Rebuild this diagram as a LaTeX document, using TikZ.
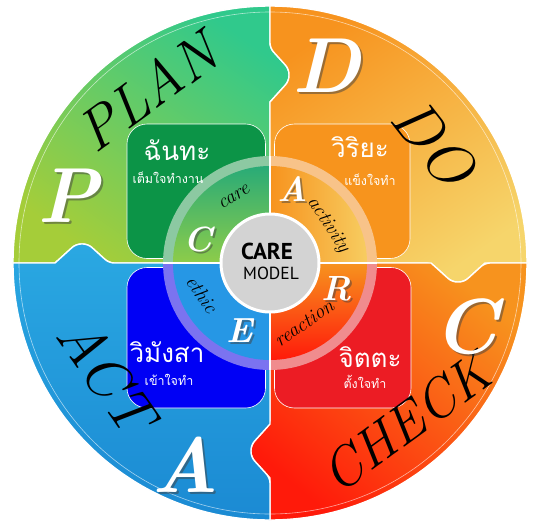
\documentclass[tikz,border=0pt]{standalone}
\usepackage{fontspec}
\newfontfamily\thaifont[Script=Thai]{Loma}
\newfontfamily\hubfont{PT Sans}
\usetikzlibrary{positioning}

\definecolor{planTeal}{HTML}{30C98C}
\definecolor{planLime}{HTML}{A5CD39}
\definecolor{doOrange}{HTML}{F7931E}
\definecolor{doYellow}{HTML}{F6D56B}
\definecolor{checkRed}{HTML}{FF1A0A}
\definecolor{checkOrange}{HTML}{F7931E}
\definecolor{actBlue}{HTML}{2AA8E2}
\definecolor{actDeep}{HTML}{1B8AD3}
\definecolor{boxGreen}{HTML}{0C9447}
\definecolor{boxOrange}{HTML}{F7941D}
\definecolor{boxBlue}{HTML}{0000F5}
\definecolor{boxRed}{HTML}{EC1C24}
\definecolor{bandGreen}{HTML}{8CC9A2}
\definecolor{bandOrange}{HTML}{F8C389}
\definecolor{bandRed}{HTML}{F08C8E}
\definecolor{bandBlue}{HTML}{7B73F0}
\definecolor{hubGrey}{HTML}{D3D3D3}

\tikzset{
  quarter/.style={draw=white, line width=1.4pt},
  innerbox/.style={draw=white!80, line width=.6pt, rounded corners=20pt},
  pdcaword/.style={font=\fontsize{#1}{#1}\selectfont\itshape, text=black, inner sep=0pt},
  bigletter/.style={font=\fontsize{78}{78}\selectfont\bfseries\itshape, text=white, inner sep=0pt},
  ringletter/.style={font=\fontsize{35}{35}\selectfont\bfseries\itshape, text=white, inner sep=0pt},
  ringword/.style={font=\fontsize{20}{20}\selectfont\itshape, text=black, inner sep=0pt},
  thaibig/.style={font=\thaifont\fontsize{26}{28}\selectfont, text=white, inner sep=0pt},
  thaismall/.style={font=\thaifont\fontsize{12.5}{13}\selectfont, text=white, inner sep=0pt},
  bandplan/.style={fill=bandGreen},
  banddo/.style={fill=bandOrange},
  bandcheck/.style={fill=bandRed},
  bandact/.style={fill=bandBlue},
  diskplan/.style={top color=planTeal!85!black, bottom color=planLime!80!planTeal},
  diskdo/.style={left color=doOrange, right color=doYellow!90!orange},
  diskcheck/.style={top color=checkOrange, bottom color=checkRed},
  diskact/.style={fill=actBlue!90!blue},
}

\newcommand{\shadowletter}[4]{%
  \node[#3, text=black!75, opacity=.5, xshift=2pt, yshift=-2pt] (#1-shadow) at #2 {#4};
  \node[#3] (#1) at #2 {#4};
}

\begin{document}
\begin{tikzpicture}[x=1pt,y=1pt]
\useasboundingbox (-270,-257) rectangle (267,263);

% quarters of the wheel
\path[quarter, top color=planTeal, bottom color=planLime, shading angle=-35]
  (0,0) -- (0,161) [rounded corners=5pt] -- (19,182) -- (19,194) -- (0,215) [sharp corners]
  -- (0,257) arc[start angle=90, end angle=180, radius=257]
  -- (-215,0) [rounded corners=5pt] -- (-194,19) -- (-182,19) -- (-161,0) [sharp corners] -- cycle;
\path[quarter, top color=doOrange, bottom color=doYellow, shading angle=35]
  (0,0) -- (0,161) [rounded corners=5pt] -- (19,182) -- (19,194) -- (0,215) [sharp corners]
  -- (0,257) arc[start angle=90, end angle=0, radius=257]
  -- (215,0) [rounded corners=5pt] -- (194,-19) -- (182,-19) -- (161,0) [sharp corners] -- cycle;
\path[quarter, top color=checkOrange, bottom color=checkRed, shading angle=-40]
  (0,0) -- (161,0) [rounded corners=5pt] -- (182,-19) -- (194,-19) -- (215,0) [sharp corners]
  -- (257,0) arc[start angle=0, end angle=-90, radius=257]
  -- (0,-215) [rounded corners=5pt] -- (-19,-194) -- (-19,-182) -- (0,-161) [sharp corners] -- cycle;
\path[quarter, top color=actBlue, bottom color=actDeep]
  (0,0) -- (0,-161) [rounded corners=5pt] -- (-19,-182) -- (-19,-194) -- (0,-215) [sharp corners]
  -- (0,-257) arc[start angle=-90, end angle=-180, radius=257]
  -- (-215,0) [rounded corners=5pt] -- (-194,19) -- (-182,19) -- (-161,0) [sharp corners] -- cycle;
\draw[white, opacity=.6, line width=.6pt] (0,0) circle[radius=251];

% inner boxes
\path[innerbox, fill=boxGreen] (-143,4.5) rectangle (-4.5,139);
\path[innerbox, fill=boxOrange] (4.5,4.5) rectangle (140,139);
\path[innerbox, fill=boxBlue] (-143,-4.5) rectangle (-4.5,-145);
\path[innerbox, fill=boxRed] (4.5,-4.5) rectangle (141,-145);

% ring and disk
\foreach \a/\s in {90/bandplan, 0/banddo, 270/bandcheck, 180/bandact}
  \path[\s] (0,0) -- (\a:107) arc[start angle=\a, end angle=\a+90, radius=107] -- cycle;
\foreach \a/\s in {90/diskplan, 0/diskdo, 270/diskcheck, 180/diskact}
  \path[\s] (0,0) -- (\a:97) arc[start angle=\a, end angle=\a+90, radius=97] -- cycle;
\draw[white, line width=2.2pt] (-107,0) -- (107,0) (0,-107) -- (0,107);

% hub
\node[circle, fill=hubGrey, draw=white, line width=3pt, minimum size=98pt] (hub) at (0,0) {};
\node[font=\hubfont\fontsize{23}{23}\selectfont\bfseries, inner sep=0pt] (care) at (-3,12) {CARE};
\node[font=\hubfont\fontsize{17.5}{18}\selectfont, inner sep=0pt, below=7pt of care.south, xshift=4pt] (model) {MODEL};

% PDCA words
\node[pdcaword=58, rotate=36] (plan) at (-123,172) {PLAN};
\node[pdcaword=62, rotate=-52] (do) at (164,120) {DO};
\node[pdcaword=55, rotate=36] (check) at (136,-160) {CHECK};
\node[pdcaword=60, rotate=-55] (act) at (-163,-112) {ACT};

% big letters
\shadowletter{bigP}{(-202,67)}{bigletter}{P}
\shadowletter{bigD}{(57,197)}{bigletter}{D}
\shadowletter{bigC}{(196,-64)}{bigletter}{C}
\shadowletter{bigA}{(-85,-202)}{bigletter}{A}

% ring letters and words
\shadowletter{ringC}{(-72,24)}{ringletter}{C}
\shadowletter{ringA}{(23,74)}{ringletter}{A}
\shadowletter{ringR}{(67,-26)}{ringletter}{R}
\shadowletter{ringE}{(-30,-68)}{ringletter}{E}
\node[ringword, rotate=32] (care-word) at (-36,66) {care};
\node[ringword, rotate=-57] (activity) at (58,38) {activity};
\node[ringword, rotate=35] (reaction) at (34,-60) {reaction};
\node[ringword, rotate=-55] (ethic) at (-68,-31) {ethic};

% thai captions
\node[thaibig] (chanda) at (-93,113) {ฉันทะ};
\node[thaismall] (chanda-sub) at (-102,85) {เต็มใจทำงาน};
\node[thaibig] (viriya) at (90,116) {วิริยะ};
\node[thaismall] (viriya-sub) at (100,83) {แข็งใจทำ};
\node[thaibig] (vimamsa) at (-103,-89) {วิมังสา};
\node[thaismall] (vimamsa-sub) at (-101,-117) {เข้าใจทำ};
\node[thaibig] (citta) at (100,-94) {จิตตะ};
\node[thaismall] (citta-sub) at (95,-119) {ตั้งใจทำ};

\end{tikzpicture}
\end{document}
